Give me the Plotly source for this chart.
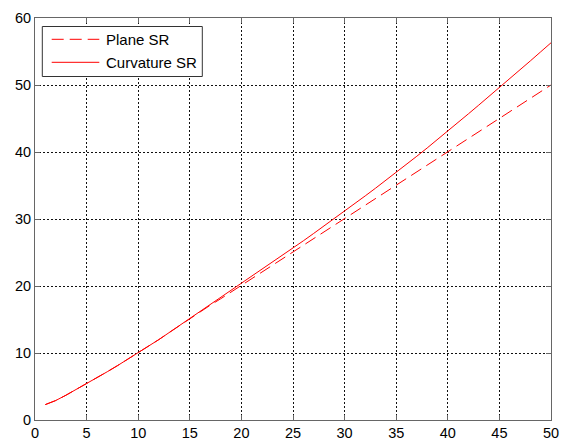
import plotly.graph_objects as go

x_vals = list(range(1, 51))
plane_sr = [2.3, 2.9, 3.7, 4.55, 5.42, 6.3, 7.2, 8.12, 9.06, 10.0,
            11.0, 12.0, 13.05, 14.1, 15.15, 16.15, 17.15, 18.1, 19.1, 20.1,
            21.1, 22.05, 23.05, 24.0, 25.0, 26.0, 27.0, 28.0, 29.0, 30.0,
            31.0, 32.0, 33.0, 34.0, 35.0, 36.0, 37.0, 38.0, 39.0, 40.0,
            41.0, 42.0, 43.0, 44.0, 45.0, 46.0, 47.0, 48.0, 49.0, 50.0]
curvature_sr = [2.3, 2.9, 3.7, 4.55, 5.42, 6.3, 7.2, 8.12, 9.06, 10.0,
                11.0, 12.0, 13.05, 14.1, 15.2, 16.2, 17.2, 18.22, 19.28, 20.35,
                21.39, 22.44, 23.5, 24.57, 25.65, 26.74, 27.84, 28.94, 30.04, 31.15,
                32.3, 33.45, 34.6, 35.77, 36.95, 38.15, 39.37, 40.6, 41.85, 43.1,
                44.4, 45.7, 47.0, 48.3, 49.6, 50.95, 52.3, 53.6, 54.95, 56.3]
series_names = ["Plane SR", "Curvature SR"]
x_ticks = [0, 5, 10, 15, 20, 25, 30, 35, 40, 45, 50]
y_ticks = [0, 10, 20, 30, 40, 50, 60]

# page has an 8px body margin; compensate so the plot area lands where the reference has it
OFF = 8
W, H = 569 - OFF, 442 - OFF
ML, MR, MT, MB = 35 - OFF, 18, 18 - OFF, 22
PW, PH = W - ML - MR, H - MT - MB

def px(u):
    return (u - OFF - ML) / PW

def py(v):
    return 1 - (v - OFF - MT) / PH

DASH = "12px,6px"

fig = go.Figure()
fig.add_trace(go.Scatter(x=x_vals, y=plane_sr, mode="lines", name=series_names[0],
                         line=dict(color="#ff0000", width=1, dash=DASH),
                         showlegend=False))
fig.add_trace(go.Scatter(x=x_vals, y=curvature_sr, mode="lines", name=series_names[1],
                         line=dict(color="#ff0000", width=1),
                         showlegend=False))

# MATLAB-style legend box
fig.add_shape(type="rect", xref="paper", yref="paper",
              x0=px(42.3), x1=px(202.3), y0=py(76.5), y1=py(26.5),
              line=dict(color="#333333", width=1), fillcolor="white", layer="above")
rows = [39.3, 62.3]
dashes = [DASH, "solid"]
for name, ry, d in zip(series_names, rows, dashes):
    fig.add_shape(type="line", xref="paper", yref="paper",
                  x0=px(51.7), x1=px(99.3), y0=py(ry), y1=py(ry),
                  line=dict(color="#ff0000", width=1, dash=d), layer="above")
    fig.add_annotation(xref="paper", yref="paper", x=px(104), y=py(ry),
                       text=name, showarrow=False, xanchor="left", yanchor="middle",
                       font=dict(family="Liberation Sans, Arial", size=15, color="black"))

axis_common = dict(showline=True, mirror="all", linecolor="#666666", linewidth=1,
                   ticks="inside", ticklen=5, tickcolor="#666666",
                   showgrid=True, gridcolor="#111111", gridwidth=1, griddash="2px,2px",
                   zeroline=False, automargin=False,
                   tickfont=dict(family="Liberation Sans, Arial", size=14.5, color="black"))

fig.update_xaxes(range=[0, 50], tickvals=x_ticks, **axis_common)
fig.update_yaxes(range=[0, 60], tickvals=y_ticks, **axis_common)

fig.update_layout(width=W, height=H,
                  margin=dict(l=ML, r=MR, t=MT, b=MB, autoexpand=False),
                  paper_bgcolor="white", plot_bgcolor="white",
                  showlegend=False)

fig.write_html("out.html")
